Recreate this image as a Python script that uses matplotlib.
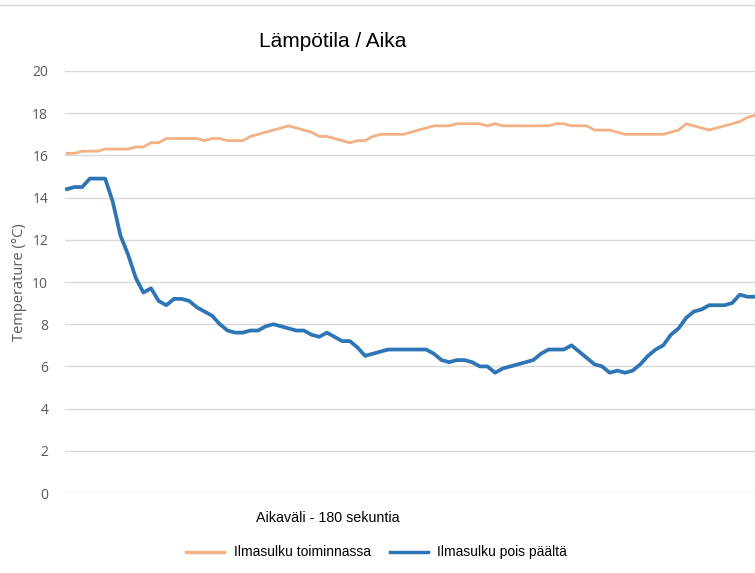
import matplotlib.pyplot as plt
from matplotlib.lines import Line2D

plt.rcParams['font.family'] = ['Liberation Sans', 'DejaVu Sans']

# Lämpötila (°C), näyte n. 2 s välein
toiminnassa = [16.1, 16.1, 16.2, 16.2, 16.2, 16.3, 16.3, 16.3, 16.3, 16.4,
               16.4, 16.6, 16.6, 16.8, 16.8, 16.8, 16.8, 16.8, 16.7, 16.8,
               16.8, 16.7, 16.7, 16.7, 16.9, 17.0, 17.1, 17.2, 17.3, 17.4,
               17.3, 17.2, 17.1, 16.9, 16.9, 16.8, 16.7, 16.6, 16.7, 16.7,
               16.9, 17.0, 17.0, 17.0, 17.0, 17.1, 17.2, 17.3, 17.4, 17.4,
               17.4, 17.5, 17.5, 17.5, 17.5, 17.4, 17.5, 17.4, 17.4, 17.4,
               17.4, 17.4, 17.4, 17.4, 17.5, 17.5, 17.4, 17.4, 17.4, 17.2,
               17.2, 17.2, 17.1, 17.0, 17.0, 17.0, 17.0, 17.0, 17.0, 17.1,
               17.2, 17.5, 17.4, 17.3, 17.2, 17.3, 17.4, 17.5, 17.6, 17.8,
               17.9]
pois_paalta = [14.4, 14.5, 14.5, 14.9, 14.9, 14.9, 13.8, 12.2, 11.3, 10.2,
               9.5, 9.7, 9.1, 8.9, 9.2, 9.2, 9.1, 8.8, 8.6, 8.4,
               8.0, 7.7, 7.6, 7.6, 7.7, 7.7, 7.9, 8.0, 7.9, 7.8,
               7.7, 7.7, 7.5, 7.4, 7.6, 7.4, 7.2, 7.2, 6.9, 6.5,
               6.6, 6.7, 6.8, 6.8, 6.8, 6.8, 6.8, 6.8, 6.6, 6.3,
               6.2, 6.3, 6.3, 6.2, 6.0, 6.0, 5.7, 5.9, 6.0, 6.1,
               6.2, 6.3, 6.6, 6.8, 6.8, 6.8, 7.0, 6.7, 6.4, 6.1,
               6.0, 5.7, 5.8, 5.7, 5.8, 6.1, 6.5, 6.8, 7.0, 7.5,
               7.8, 8.3, 8.6, 8.7, 8.9, 8.9, 8.9, 9.0, 9.4, 9.3,
               9.3]
y_ticks = [0, 2, 4, 6, 8, 10, 12, 14, 16, 18, 20]

orange = '#F4B183'
blue = '#2E75B6'

fig = plt.figure(figsize=(7.55, 5.73), dpi=100)
ax = fig.add_axes([0.086, 0.1396, 0.914, 0.7365])

ax.plot(range(len(toiminnassa)), toiminnassa, color=orange, lw=2.0,
        solid_joinstyle='round')
ax.plot(range(len(pois_paalta)), pois_paalta, color=blue, lw=2.7,
        solid_joinstyle='round')

ax.set_xlim(-0.26, len(toiminnassa) - 1)
ax.set_ylim(0, 20)
ax.set_yticks(y_ticks)
ax.set_xticks([])
ax.grid(axis='y', color='#d9d9d9', lw=1)
ax.set_axisbelow(True)
for s in ax.spines.values():
    s.set_visible(False)
ax.tick_params(axis='y', length=0, pad=12, labelsize=10, labelcolor='#595959')
for lab in ax.get_yticklabels():
    lab.set_fontfamily(['Open Sans', 'DejaVu Sans'])

ax.set_ylabel('Temperature (°C)', fontsize=10.5, color='#595959', labelpad=4,
              fontfamily=['Open Sans', 'DejaVu Sans'])
fig.text(0.441, 0.928, 'Lämpötila / Aika', fontsize=15, ha='center', va='center',
         color='#000000')
fig.text(0.434, 0.096, 'Aikaväli - 180 sekuntia', fontsize=10.3, ha='center',
         va='center', color='#000000')

handles = [Line2D([0], [0], color=orange, lw=2.5),
           Line2D([0], [0], color=blue, lw=2.5)]
fig.legend(handles, ['Ilmasulku toiminnassa', 'Ilmasulku pois päältä'],
           loc='center', bbox_to_anchor=(0.499, 0.036), ncol=2, frameon=False,
           fontsize=10, handlelength=2.7, columnspacing=1.4, handletextpad=0.7)

# reunaviiva ylhäällä
fig.add_artist(Line2D([0, 1], [0.991, 0.991], transform=fig.transFigure,
                      color='#d9d9d9', lw=1))

fig.savefig('out.png', dpi=100)
